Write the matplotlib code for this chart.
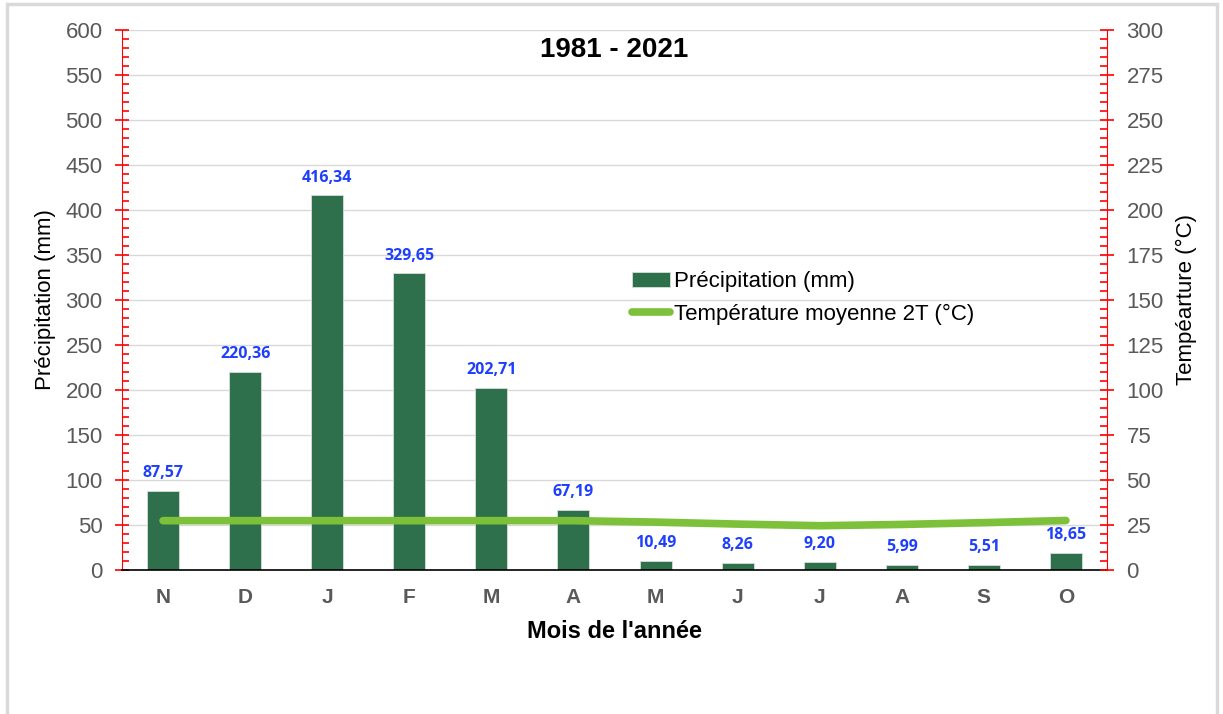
import numpy as np
import matplotlib.pyplot as plt
from matplotlib.patches import Rectangle
from matplotlib.ticker import MultipleLocator

plt.rcParams['font.family'] = ['Liberation Sans', 'DejaVu Sans']

mois = ["N", "D", "J", "F", "M", "A", "M", "J", "J", "A", "S", "O"]
precip = [87.57, 220.36, 416.34, 329.65, 202.71, 67.19, 10.49, 8.26, 9.20, 5.99, 5.51, 18.65]
temp = [27.4, 27.4, 27.4, 27.4, 27.4, 27.4, 26.6, 25.5, 24.6, 25.3, 26.3, 27.5]

bar_color = "#2E704B"
line_color = "#7DC13A"
tick_grey = "#595959"

fig = plt.figure(figsize=(12.23, 7.14), dpi=100)
fig.patches.append(Rectangle((0.0055, -0.05), 0.9900, 1.045, transform=fig.transFigure,
                             fill=False, edgecolor="#D9D9D9", linewidth=2.5))

ax = fig.add_axes([0.0998, 0.2017, 0.8053, 0.7563])
x = np.arange(len(mois))

bars = ax.bar(x, precip, width=0.39, color=bar_color, edgecolor="#D6DED8",
              linewidth=0.6, label="Précipitation (mm)", zorder=2)
for xi, v in zip(x, precip):
    ax.annotate(f"{v:.2f}".replace(".", ","), (xi, v), xytext=(0, 7),
                textcoords="offset points", ha="center", va="bottom",
                color="#1F3FFF", fontsize=11.5, fontweight="bold",
                family=["Open Sans", "DejaVu Sans"])

ax.set_xlim(-0.5, len(mois) - 0.5)
ax.set_ylim(0, 600)
ax.yaxis.set_major_locator(MultipleLocator(50))
ax.yaxis.set_minor_locator(MultipleLocator(10))
ax.grid(axis="y", which="major", color="#D9D9D9", linewidth=1, zorder=0)
ax.set_axisbelow(True)

ax.set_xticks(x)
ax.set_xticklabels(mois, fontsize=15, fontweight="bold", color=tick_grey)
ax.tick_params(axis="x", length=0, pad=13)
ax.tick_params(axis="y", which="major", direction="inout", length=10, width=1.2,
               color="red", labelsize=16, labelcolor=tick_grey, pad=9)
ax.tick_params(axis="y", which="minor", direction="in", length=5, width=1.2, color="red")

ax.spines["top"].set_visible(False)
ax.spines["left"].set_color("red")
ax.spines["right"].set_visible(False)
ax.spines["bottom"].set_color("black")
ax.spines["bottom"].set_linewidth(1.2)

ax.set_ylabel("Précipitation (mm)", fontsize=16, labelpad=7)
ax.set_xlabel("Mois de l'année", fontsize=17, fontweight="bold", labelpad=9)
ax.set_title("1981 - 2021", fontsize=20, fontweight="bold", y=0.935)

ax2 = ax.twinx()
line, = ax2.plot(x, temp, color=line_color, linewidth=5.5, solid_capstyle="round",
                 solid_joinstyle="round", label="Température moyenne 2T (°C)", zorder=3)
ax2.set_ylim(0, 300)
ax2.yaxis.set_major_locator(MultipleLocator(25))
ax2.yaxis.set_minor_locator(MultipleLocator(5))
ax2.tick_params(axis="y", which="major", direction="inout", length=10, width=1.2,
                color="red", labelsize=16, labelcolor=tick_grey, pad=9)
ax2.tick_params(axis="y", which="minor", direction="in", length=5, width=1.2, color="red")
for s in ["top", "left", "bottom"]:
    ax2.spines[s].set_visible(False)
ax2.spines["right"].set_color("red")
ax2.set_ylabel("Tempéarture (°C)", fontsize=16, labelpad=9)

ax2.legend([bars, line], ["Précipitation (mm)", "Température moyenne 2T (°C)"],
           loc="upper left", bbox_to_anchor=(0.497, 0.59), frameon=False,
           fontsize=16, handlelength=1.75, handletextpad=0.15, labelspacing=0.5)

fig.savefig("out.png", dpi=100)
